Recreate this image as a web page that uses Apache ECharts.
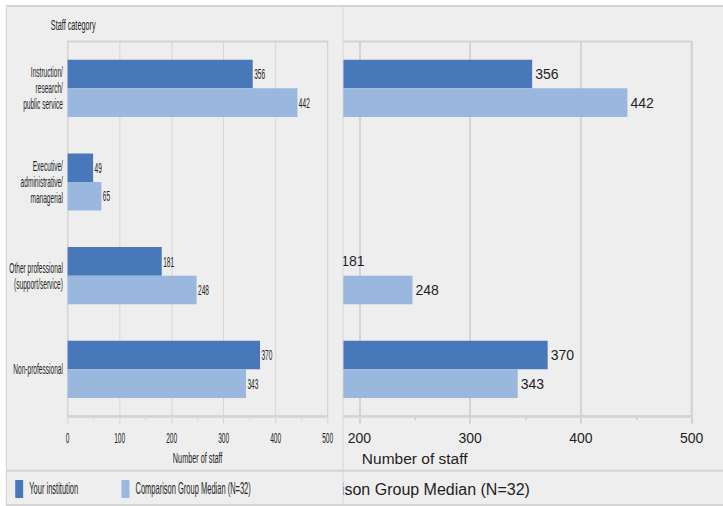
<!DOCTYPE html>
<html>
<head>
<meta charset="utf-8">
<script src="https://cdn.jsdelivr.net/npm/echarts@6/dist/echarts.min.js"></script>
<style>
html,body{margin:0;padding:0;overflow:hidden;background:#fff;width:723px;height:506px;}
#wrap{position:relative;width:723px;height:506px;overflow:hidden;}
#big{position:absolute;left:0;top:0;width:727px;height:506px;}
#small{position:absolute;left:2.7px;top:0;width:727px;height:506px;transform:scaleX(0.4693);transform-origin:0 0;}
</style>
</head>
<body>
<div id="wrap"><div id="big"></div><div id="small"></div></div>
<script>
// ---- data ----
const categories = [
  'Instruction/\nresearch/\npublic service',
  'Executive/\nadministrative/\nmanagerial',
  'Other professional\n(support/service)',
  'Non-professional'
];
const yourInstitution = [356, 49, 181, 370];
const comparisonMedian = [442, 65, 248, 343];
const seriesNames = ['Your institution', 'Comparison Group Median (N=32)'];
const xMin = 0, xMax = 500, xInterval = 100;
const axisTitle = 'Number of staff';
const categoryTitle = 'Staff category';
// value at which the enlarged view is cut off by the overview panel
const cutValue = 185;

// ---- style ----
const FONT = 'Liberation Sans, Arial, sans-serif';
const TXT = '#1e1e1e';
const LINE = '#d4d4d4';
const DARK = '#4878ba';
const LIGHT = '#9ab8dd';

function makeOption(full) {
  const labelStyle = { show: true, position: 'right', distance: 3, fontSize: 14, color: TXT, fontFamily: FONT };
  const barLabel = full ? labelStyle : Object.assign({}, labelStyle, {
    formatter: p => (p.value > cutValue - 10 ? String(p.value) : '')
  });
  const opt = {
    backgroundColor: 'transparent',
    animation: false,
    textStyle: { fontFamily: FONT },
    graphic: [
      { type: 'rect', z: -10, shape: { x: 7, y: 6, width: 717.5, height: 499 },
        style: { fill: '#eeeeee', stroke: LINE, lineWidth: 2 } },
      { type: 'line', z: -9, shape: { x1: 7, y1: 470.7, x2: 724.5, y2: 470.7 },
        style: { stroke: LINE, lineWidth: 2 } }
    ],
    legend: {
      data: full ? seriesNames : [seriesNames[1]],
      left: full ? 26 : 254, top: 480, padding: 0,
      itemWidth: 17, itemHeight: 18, itemGap: 92,
      icon: 'rect', selectedMode: false,
      textStyle: { fontSize: 16, color: TXT, fontFamily: FONT, padding: [0, 0, 0, 8] }
    },
    grid: {
      left: 137.7, right: 35.3, top: 41.5, height: 374.7,
      show: true, borderColor: LINE, borderWidth: 2, backgroundColor: 'transparent',
      outerBoundsMode: 'none'
    },
    xAxis: {
      type: 'value', min: xMin, max: xMax, interval: xInterval,
      name: axisTitle, nameLocation: 'middle', nameGap: 34,
      nameTextStyle: { fontSize: 15.5, color: TXT, fontFamily: FONT },
      axisLine: { show: true, lineStyle: { color: LINE, width: 2.5 } },
      axisTick: { show: true, length: 8, lineStyle: { color: LINE, width: 2 } },
      minorTick: { show: true, splitNumber: 2, length: 4, lineStyle: { color: LINE, width: 2 } },
      splitLine: { show: true, lineStyle: { color: LINE, width: 2 } },
      axisLabel: {
        fontSize: 14, color: TXT, margin: 15, fontFamily: FONT,
        formatter: v => (full || v >= cutValue ? String(v) : '')
      }
    },
    yAxis: {
      type: 'category', data: categories, inverse: true,
      axisLine: { show: true, lineStyle: { color: LINE, width: 2 } },
      axisTick: { show: false },
      splitLine: { show: false },
      axisLabel: { show: full, fontSize: 14, lineHeight: 16, color: TXT, margin: 10, align: 'right', fontFamily: FONT }
    },
    series: [
      { name: seriesNames[0], type: 'bar', data: yourInstitution, itemStyle: { color: DARK },
        barGap: '0%', barCategoryGap: '39%', label: barLabel },
      { name: seriesNames[1], type: 'bar', data: comparisonMedian, itemStyle: { color: LIGHT },
        barGap: '0%', barCategoryGap: '39%', label: barLabel }
    ]
  };
  if (full) {
    opt.title = {
      text: categoryTitle, left: 102, top: 17, padding: 0,
      textStyle: { fontSize: 15.5, fontWeight: 'normal', color: TXT, fontFamily: FONT }
    };
  }
  return opt;
}

const big = echarts.init(document.getElementById('big'), null, { renderer: 'svg', width: 727, height: 506 });
big.setOption(makeOption(false));
const small = echarts.init(document.getElementById('small'), null, { renderer: 'svg', width: 727, height: 506 });
small.setOption(makeOption(true));
</script>
</body>
</html>
